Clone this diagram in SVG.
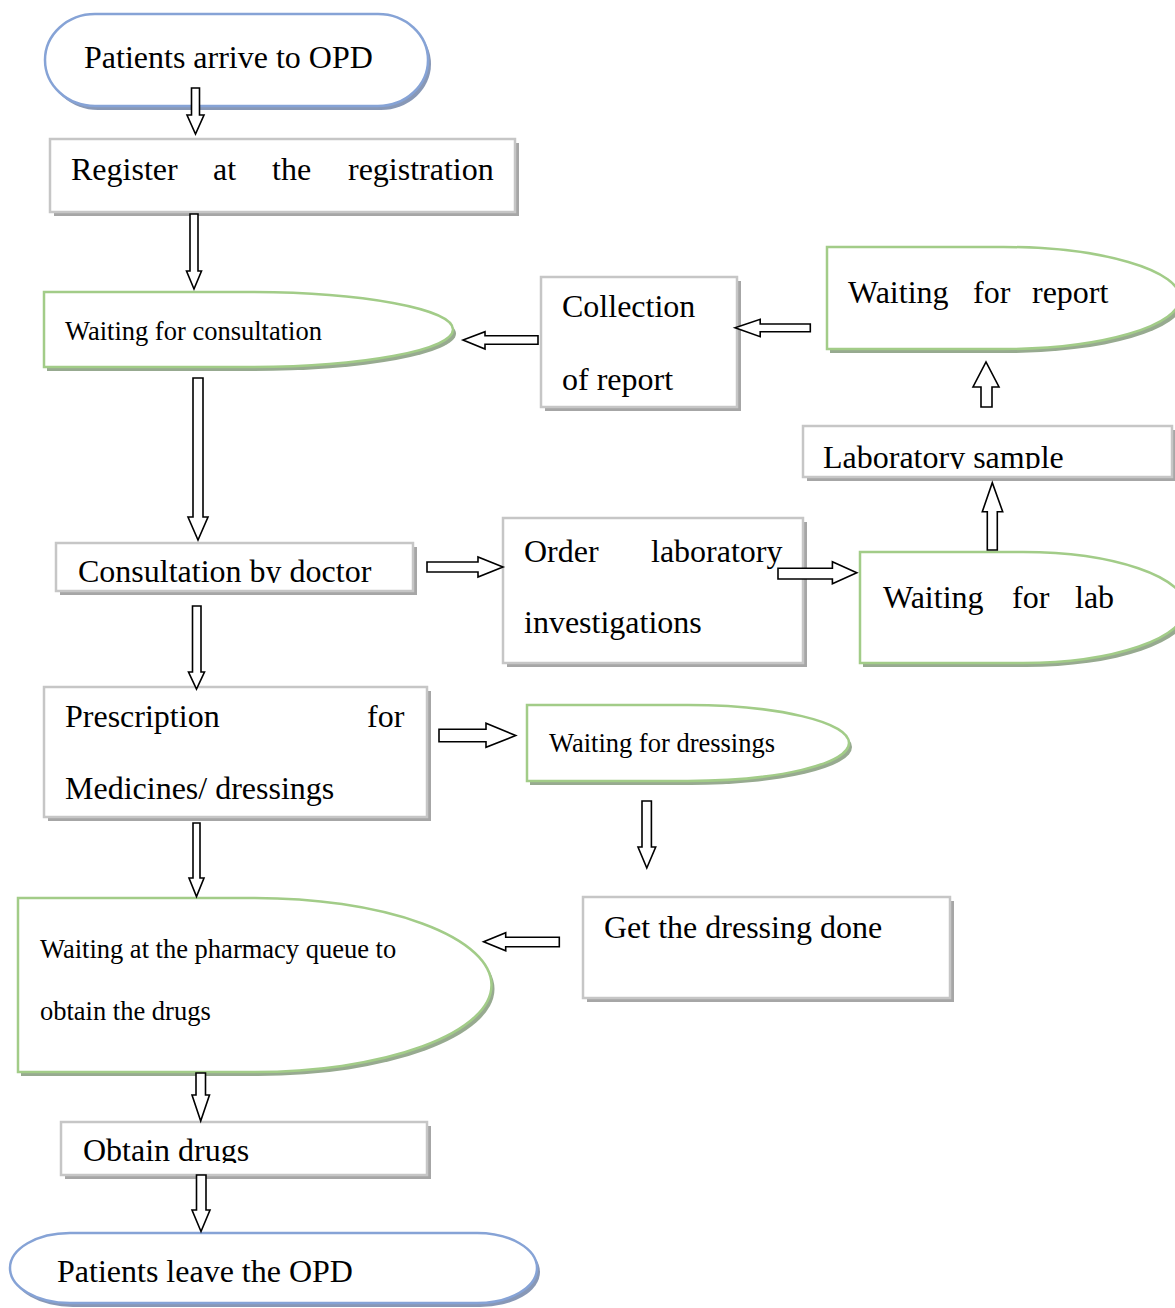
<svg xmlns="http://www.w3.org/2000/svg" width="1175" height="1308" viewBox="0 0 1175 1308">
<style>
  .bg { fill: #ffffff; }
  .box { fill: #ffffff; stroke: #c6c6c6; stroke-width: 2.5; }
  .boxsh { fill: #a6a6a6; }
  .term { fill: #ffffff; stroke: #86a3d6; stroke-width: 2.5; }
  .termsh { fill: #8898b6; }
  .delay { fill: #ffffff; stroke: #a2cc88; stroke-width: 2.5; }
  .delaysh { fill: #97aa90; }
  .t { font-family: "Liberation Serif", "Times New Roman", serif; font-size: 32px; fill: #000000; }
  .s { font-family: "Liberation Serif", "Times New Roman", serif; font-size: 26.5px; fill: #000000; }
  .arr { fill: #ffffff; stroke: #000000; stroke-width: 1.6; stroke-linejoin: miter; }
</style>
<defs>
  <clipPath id="clipLab"><rect x="803" y="426" width="369" height="43"/></clipPath>
  <clipPath id="clipCons"><rect x="56" y="543" width="357" height="40"/></clipPath>
  <clipPath id="clipObt"><rect x="61" y="1122" width="366" height="41"/></clipPath>
</defs>
<rect class="bg" x="0" y="0" width="1175" height="1308"/>

<g id="node-start">
  <rect class="termsh" x="48" y="18" width="383" height="92" rx="50" ry="46"/>
  <rect class="term" x="45" y="14" width="383" height="92" rx="50" ry="46"/>
  <text class="t" x="84" y="68">Patients arrive to OPD</text>
</g>

<g id="node-register">
  <rect class="boxsh" x="54" y="143" width="465" height="73"/>
  <rect class="box" x="50" y="139" width="465" height="73"/>
  <text class="t" y="180"><tspan x="71">Register</tspan><tspan x="213">at</tspan><tspan x="272">the</tspan><tspan x="348">registration</tspan></text>
</g>

<g id="node-wait-consult">
  <path class="delaysh" d="M47 296 H251.5 A204.5 37.5 0 0 1 251.5 371 H47 Z"/>
  <path class="delay" d="M44 292 H248.5 A204.5 37.5 0 0 1 248.5 367 H44 Z"/>
  <text class="s" x="65" y="340">Waiting for consultation</text>
</g>

<g id="node-collection">
  <rect class="boxsh" x="545" y="281" width="196" height="130"/>
  <rect class="box" x="541" y="277" width="196" height="130"/>
  <text class="t" x="562" y="317">Collection</text>
  <text class="t" x="562" y="390">of report</text>
</g>

<g id="node-wait-report">
  <path class="delaysh" d="M830 251 H1006.5 A176.5 51 0 0 1 1006.5 353 H830 Z"/>
  <path class="delay" d="M827 247 H1003.5 A176.5 51 0 0 1 1003.5 349 H827 Z"/>
  <text class="t" y="303"><tspan x="848">Waiting</tspan><tspan x="973">for</tspan><tspan x="1032">report</tspan></text>
</g>

<g id="node-lab-sample">
  <rect class="boxsh" x="807" y="430" width="369" height="51"/>
  <rect class="box" x="803" y="426" width="369" height="51"/>
  <text class="t" x="823" y="468" clip-path="url(#clipLab)">Laboratory sample</text>
</g>

<g id="node-consultation">
  <rect class="boxsh" x="60" y="547" width="357" height="48"/>
  <rect class="box" x="56" y="543" width="357" height="48"/>
  <text class="t" x="78" y="582" clip-path="url(#clipCons)">Consultation by doctor</text>
</g>

<g id="node-order">
  <rect class="boxsh" x="507" y="522" width="300" height="145"/>
  <rect class="box" x="503" y="518" width="300" height="145"/>
  <text class="t" y="562"><tspan x="524">Order</tspan><tspan x="651">laboratory</tspan></text>
  <text class="t" x="524" y="633">investigations</text>
</g>

<g id="node-wait-lab">
  <path class="delaysh" d="M863 556 H1026 A163 55.5 0 0 1 1026 667 H863 Z"/>
  <path class="delay" d="M860 552 H1023 A163 55.5 0 0 1 1023 663 H860 Z"/>
  <text class="t" y="608"><tspan x="883">Waiting</tspan><tspan x="1012">for</tspan><tspan x="1075">lab</tspan></text>
</g>

<g id="node-prescription">
  <rect class="boxsh" x="48" y="691" width="383" height="130"/>
  <rect class="box" x="44" y="687" width="383" height="130"/>
  <text class="t" y="727"><tspan x="65">Prescription</tspan><tspan x="367">for</tspan></text>
  <text class="t" x="65" y="799">Medicines/ dressings</text>
</g>

<g id="node-wait-dressings">
  <path class="delaysh" d="M530 709 H691 A161 38 0 0 1 691 785 H530 Z"/>
  <path class="delay" d="M527 705 H688 A161 38 0 0 1 688 781 H527 Z"/>
  <text class="s" x="549" y="752">Waiting for dressings</text>
</g>

<g id="node-get-dressing">
  <rect class="boxsh" x="587" y="901" width="367" height="101"/>
  <rect class="box" x="583" y="897" width="367" height="101"/>
  <text class="t" x="604" y="938">Get the dressing done</text>
</g>

<g id="node-pharmacy">
  <path class="delaysh" d="M21 902 H257.75 A236.75 87 0 0 1 257.75 1076 H21 Z"/>
  <path class="delay" d="M18 898 H254.75 A236.75 87 0 0 1 254.75 1072 H18 Z"/>
  <text class="s" x="40" y="958">Waiting at the pharmacy queue to</text>
  <text class="s" x="40" y="1020">obtain the drugs</text>
</g>

<g id="node-obtain">
  <rect class="boxsh" x="65" y="1126" width="366" height="53"/>
  <rect class="box" x="61" y="1122" width="366" height="53"/>
  <text class="t" x="83" y="1161" clip-path="url(#clipObt)">Obtain drugs</text>
</g>

<g id="node-leave">
  <rect class="termsh" x="13" y="1237" width="527" height="70" rx="60" ry="35"/>
  <rect class="term" x="10" y="1233" width="527" height="70" rx="60" ry="35"/>
  <text class="t" x="57" y="1282">Patients leave the OPD</text>
</g>

<g id="connectors">
  <!-- vertical down arrows -->
  <polygon class="arr" points="191.5,88 199.5,88 199.5,115 204,115 195.5,134 187,115 191.5,115"/>
  <polygon class="arr" points="190,214 198,214 198,271 201.5,271 194,289 186.5,271 190,271"/>
  <polygon class="arr" points="193,378 203,378 203,517 208,517 198,540 188,517 193,517"/>
  <polygon class="arr" points="192.5,606 201,606 201,672 204.5,672 196.5,689 188.5,672 192.5,672"/>
  <polygon class="arr" points="193,823 200,823 200,878 204,878 196.5,896.5 189,878 193,878"/>
  <polygon class="arr" points="196,1073 205.5,1073 205.5,1095 209.5,1095 200.7,1121 192,1095 196,1095"/>
  <polygon class="arr" points="196.5,1175 206,1175 206,1210 210,1210 201,1231.5 192,1210 196.5,1210"/>
  <polygon class="arr" points="642,801 651.4,801 651.4,847 655.7,847 646.8,868 638,847 642,847"/>
  <!-- right arrows -->
  <polygon class="arr" points="427,562 478,562 478,557 503,567 478,577 478,572 427,572"/>
  <polygon class="arr" points="778,568.3 832.4,568.3 832.4,561.7 856.8,572.7 832.4,583.7 832.4,579 778,579"/>
  <polygon class="arr" points="439,729.3 486,729.3 486,723.3 515.7,735.5 486,747.3 486,741.7 439,741.7"/>
  <!-- up arrows -->
  <polygon class="arr" points="987.3,550 997.3,550 997.3,511.7 1002.7,511.7 992.3,482.7 982.3,511.7 987.3,511.7"/>
  <polygon class="arr" points="981,407 992,407 992,387 999,387 986,362 973,387 981,387"/>
  <!-- left arrows -->
  <polygon class="arr" points="810.3,324 760.2,324 760.2,319.3 735.1,327.7 760.2,336.7 760.2,331.7 810.3,331.7"/>
  <polygon class="arr" points="538,335.7 485,335.7 485,331.7 463,340 485,349 485,344.3 538,344.3"/>
  <polygon class="arr" points="559.3,937.3 505.7,937.3 505.7,932.7 483.6,941.7 505.7,950.7 505.7,946.7 559.3,946.7"/>
</g>
</svg>
